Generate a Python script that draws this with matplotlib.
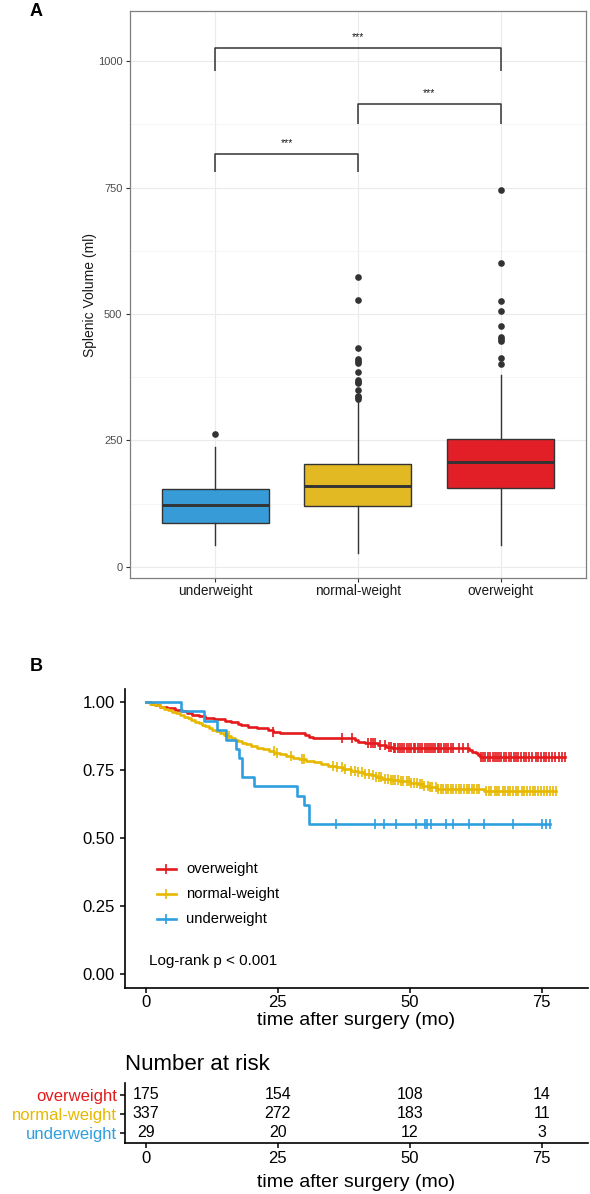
import numpy as np
import matplotlib
matplotlib.use('Agg')
import matplotlib.pyplot as plt

plt.rcParams['font.family'] = ['Liberation Sans', 'DejaVu Sans']

# ---------------- Panel A data (box plot summary) -------------
groups = ['underweight', 'normal-weight', 'overweight']
box_colors = ['#379BD8', '#E2B823', '#E21F26']
q1 = [87, 120, 155]
medians = [122, 160, 207]
q3 = [154, 203, 253]
whisk_lo = [43, 28, 43]
whisk_hi = [238, 330, 379]
fliers_under = [262]
fliers_normal = [574, 528, 432, 410, 407, 404, 386, 370, 366, 363, 350, 338, 335, 332]
fliers_over = [745, 600, 526, 505, 477, 454, 450, 447, 412, 401]
sig_pairs = [(1, 2), (2, 3), (1, 3)]
sig_heights = [816, 915, 1026]
sig_ends = [781, 875, 981]
sig_labels = ['***', '***', '***']

# ---------------- Panel B data (Kaplan-Meier steps) -----------
km_labels = ['overweight', 'normal-weight', 'underweight']
km_colors = ['#E41A1C', '#E7B800', '#2E9FDF']

over_t = [1.0, 1.7, 2.6, 4.0, 5.5, 6.8, 7.8, 8.7, 10.0, 11.2, 13.0, 15.0, 16.2, 17.5,
          18.1, 19.4, 21.0, 23.2, 24.0, 25.5, 30.1, 31.0, 31.7, 39.6, 40.2, 41.5,
          44.0, 45.6, 46.7, 61.2, 61.9, 62.5, 63.0, 63.4]
over_s = [0.994, 0.989, 0.983, 0.977, 0.971, 0.966, 0.960, 0.954, 0.949, 0.943, 0.937,
          0.931, 0.926, 0.920, 0.914, 0.908, 0.903, 0.897, 0.891, 0.885, 0.879, 0.873,
          0.866, 0.860, 0.854, 0.848, 0.842, 0.836, 0.830, 0.823, 0.817, 0.811, 0.805, 0.799]
over_end = 79.5
over_cens = [24.1, 37.2, 39.0, 42.1, 42.6, 43.0, 43.5, 44.3, 45.3, 46.0, 46.5, 47.0, 47.3,
             47.7, 48.2, 48.6, 49.0, 49.4, 49.9, 50.3, 50.8, 51.1, 51.6, 52.0, 52.3, 52.9,
             53.2, 53.6, 54.1, 54.4, 54.8, 55.3, 55.6, 56.0, 56.5, 56.9, 57.2, 57.8, 58.3,
             59.3, 60.1, 61.0, 63.5, 63.9, 64.3, 64.8, 65.2, 65.7, 66.1, 66.5, 67.0, 67.4,
             67.9, 68.3, 68.8, 69.3, 69.7, 70.2, 70.6, 71.1, 71.6, 72.1, 72.7, 73.2, 73.9,
             74.3, 74.8, 75.4, 75.9, 76.5, 77.0, 77.6, 78.3, 78.9, 79.5]

norm_t = [0.8, 1.7, 2.6, 3.4, 4.2, 5.0, 5.8, 6.5, 7.2, 7.9, 8.6, 9.3, 10.0, 10.6, 11.2,
          11.9, 12.6, 13.3, 14.0, 14.8, 15.5, 16.2, 16.9, 17.5, 18.2, 19.0, 20.0, 21.1,
          22.2, 23.3, 24.3, 25.4, 26.6, 27.8, 29.0, 30.4, 31.8, 33.2, 34.6, 36.0, 37.4,
          38.8, 40.2, 41.4, 42.6, 43.6, 44.8, 46.4, 48.0, 50.0, 51.6, 52.6, 53.6, 55.1, 64.0]
norm_s = [0.994, 0.988, 0.982, 0.976, 0.970, 0.964, 0.958, 0.952, 0.946, 0.940, 0.934,
          0.928, 0.922, 0.916, 0.910, 0.904, 0.898, 0.892, 0.886, 0.880, 0.874, 0.868,
          0.862, 0.856, 0.850, 0.844, 0.838, 0.832, 0.826, 0.820, 0.814, 0.808, 0.802,
          0.796, 0.790, 0.784, 0.778, 0.772, 0.766, 0.760, 0.754, 0.748, 0.742, 0.736,
          0.730, 0.724, 0.718, 0.713, 0.708, 0.703, 0.698, 0.692, 0.686, 0.680, 0.673]
norm_end = 77.7
norm_cens = [15.8, 24.2, 24.8, 27.6, 29.5, 30.0, 35.5, 36.3, 37.1, 37.8, 38.9, 39.6, 40.3,
             41.0, 41.6, 42.3, 43.0, 43.6, 44.1, 44.6, 45.3, 45.9, 46.4, 46.9, 47.3, 47.8,
             48.3, 48.8, 49.4, 49.9, 50.3, 50.8, 51.4, 51.9, 52.4, 52.8, 53.4, 53.9, 54.3,
             54.9, 55.4, 55.9, 56.3, 56.8, 57.3, 57.8, 58.2, 58.7, 59.3, 59.8, 60.3, 60.8,
             61.3, 61.8, 62.2, 62.7, 63.2, 64.5, 65.0, 65.5, 66.1, 66.6, 67.0, 67.6, 68.1,
             68.6, 69.1, 69.5, 70.1, 70.6, 71.2, 71.7, 72.2, 72.8, 73.3, 73.8, 74.4, 74.9,
             75.5, 76.0, 76.6, 77.1, 77.7]

under_t = [6.7, 11.0, 13.5, 15.1, 17.1, 17.7, 18.2, 20.5, 28.7, 29.9, 31.0]
under_s = [0.966, 0.931, 0.897, 0.862, 0.828, 0.793, 0.724, 0.690, 0.655, 0.621, 0.552]
under_end = 76.6
under_cens = [36.1, 43.5, 45.2, 47.5, 51.2, 52.9, 53.3, 54.0, 56.8, 58.2, 61.2, 64.1,
              69.6, 75.0, 75.8, 76.6]

pvalue_text = 'Log-rank p < 0.001'

# ---------------- Risk table -------------
risk_times = [0, 25, 50, 75]
risk_over = [175, 154, 108, 14]
risk_norm = [337, 272, 183, 11]
risk_under = [29, 20, 12, 3]

# =====================================================================
fig = plt.figure(figsize=(5.9, 11.94), dpi=100)

# ---------------- Panel A ----------------
axA = fig.add_axes([0.2198, 0.5159, 0.7737, 0.4749])
all_fliers = [fliers_under, fliers_normal, fliers_over]
stats = []
for i in range(3):
    stats.append(dict(label=groups[i], med=medians[i], q1=q1[i], q3=q3[i],
                      whislo=whisk_lo[i], whishi=whisk_hi[i], fliers=all_fliers[i]))
bp = axA.bxp(stats, positions=[1, 2, 3], widths=0.75, patch_artist=True, showcaps=False,
             boxprops=dict(edgecolor='#333333', linewidth=1.0),
             medianprops=dict(color='#333333', linewidth=2.1),
             whiskerprops=dict(color='#333333', linewidth=1.0),
             flierprops=dict(marker='o', markerfacecolor='#333333', markeredgecolor='none',
                             markersize=4.8))
for patch, c in zip(bp['boxes'], box_colors):
    patch.set_facecolor(c)

for (a, b), h, e, lab in zip(sig_pairs, sig_heights, sig_ends, sig_labels):
    axA.plot([a, a, b, b], [e, h, h, e], color='#333333', lw=1.1, solid_capstyle='butt')
    axA.text((a + b) / 2, h + 15, lab, ha='center', va='baseline', fontsize=7.5, color='#1A1A1A')

axA.set_xlim(0.4, 3.6)
axA.set_ylim(-22, 1099)
axA.set_xticks([1, 2, 3])
axA.set_xticklabels(groups)
axA.set_yticks([0, 250, 500, 750, 1000])
axA.set_yticks([125, 375, 625, 875], minor=True)
axA.grid(True, which='major', color='#EBEBEB', lw=0.8)
axA.grid(True, which='minor', axis='y', color='#F2F2F2', lw=0.5)
axA.tick_params(axis='y', which='minor', length=0)
axA.set_axisbelow(True)
for sp in axA.spines.values():
    sp.set_color('#7F7F7F')
    sp.set_linewidth(0.9)
axA.tick_params(axis='y', which='major', length=3, color='#333333', labelsize=8,
                labelcolor='#4D4D4D', pad=2.2)
axA.tick_params(axis='x', which='major', length=3, color='#333333', labelsize=9.8,
                labelcolor='#1A1A1A', pad=1.5)
axA.set_ylabel('Splenic Volume (ml)', fontsize=10, color='#1A1A1A')
axA.yaxis.set_label_coords(-0.072, 0.5)

fig.text(0.061, 0.990, 'A', fontsize=13, fontweight='bold', ha='center', va='center')
fig.text(0.061, 0.4422, 'B', fontsize=13, fontweight='bold', ha='center', va='center')

# ---------------- Panel B: KM ----------------
axB = fig.add_axes([0.2115, 0.1728, 0.7851, 0.2502])
curves = [(over_t, over_s, over_end, over_cens),
          (norm_t, norm_s, norm_end, norm_cens),
          (under_t, under_s, under_end, under_cens)]
for (tt, ss, te, cc), col in zip(curves, km_colors):
    t = np.array([0.0] + tt + [te])
    s = np.array([1.0] + ss + [ss[-1]])
    axB.step(t, s, where='post', color=col, lw=1.9)
    ci = np.searchsorted(t, np.array(cc), side='right') - 1
    axB.plot(cc, s[ci], ls='none', marker='|', ms=7, mew=1.2, color=col)

leg_y = [0.387, 0.295, 0.203]
for lab, col, y in zip(km_labels, km_colors, leg_y):
    axB.plot([2.08, 5.66], [y, y], color=col, lw=1.9)
    axB.plot([3.87], [y], marker='|', ms=7, mew=1.2, color=col)
    axB.text(7.6, y, lab, va='center', ha='left', fontsize=10.6)
axB.text(0.5, 0.048, pvalue_text, va='center', ha='left', fontsize=11)

axB.set_xlim(-4.0, 83.8)
axB.set_ylim(-0.05, 1.048)
axB.set_xticks([0, 25, 50, 75])
axB.set_yticks([0, 0.25, 0.5, 0.75, 1.0])
axB.set_yticklabels(['0.00', '0.25', '0.50', '0.75', '1.00'])
for sp in ['top', 'right']:
    axB.spines[sp].set_visible(False)
for sp in ['left', 'bottom']:
    axB.spines[sp].set_linewidth(1.2)
axB.tick_params(axis='both', length=3.5, width=1.1, labelsize=12, color='black')
axB.tick_params(axis='y', pad=3.5)
axB.tick_params(axis='x', pad=2)
axB.set_xlabel('time after surgery (mo)', fontsize=14)
axB.xaxis.set_label_coords(0.5, -0.08)

# ---------------- Risk table ----------------
axR = fig.add_axes([0.2115, 0.04246, 0.7851, 0.05075])
rows = [risk_over, risk_norm, risk_under]
row_y = [3, 2, 1]
for vals, y in zip(rows, row_y):
    for t, v in zip(risk_times, vals):
        axR.text(t, y, str(v), ha='center', va='center', fontsize=11.5)
axR.set_xlim(-4.0, 83.8)
axR.set_ylim(0.44, 3.65)
axR.set_xticks(risk_times)
axR.set_yticks(row_y)
axR.set_yticklabels(km_labels)
for lbl, col in zip(axR.get_yticklabels(), km_colors):
    lbl.set_color(col)
for sp in ['top', 'right']:
    axR.spines[sp].set_visible(False)
for sp in ['left', 'bottom']:
    axR.spines[sp].set_linewidth(1.2)
axR.tick_params(axis='both', length=3.5, width=1.1, labelsize=12, color='black')
axR.tick_params(axis='y', pad=2)
axR.tick_params(axis='x', pad=2)
axR.set_title('Number at risk', loc='left', fontsize=16, pad=9.4)
axR.set_xlabel('time after surgery (mo)', fontsize=14)
axR.xaxis.set_label_coords(0.5, -0.5)

fig.savefig('out.png', dpi=100)
